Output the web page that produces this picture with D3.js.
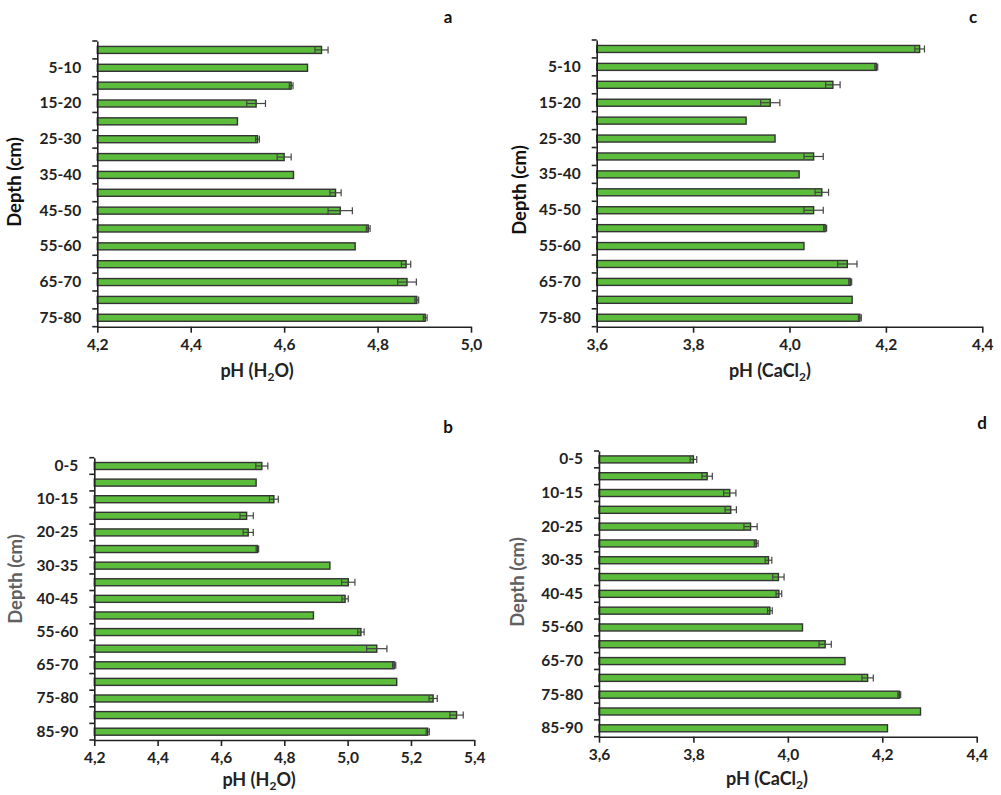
<!DOCTYPE html>
<html>
<head>
<meta charset="utf-8">
<script src="https://cdn.jsdelivr.net/npm/d3@7"></script>
<style>
  body { margin: 0; background: #fff; }
  text { font-family: Lato, "Open Sans", sans-serif; font-weight: bold; }
</style>
</head>
<body>
<div id="chart"></div>
<script>
'use strict';

// depth classes
var depthsTop = ["0-5", "5-10", "10-15", "15-20", "20-25", "25-30", "30-35", "35-40",
    "40-45", "45-50", "50-55", "55-60", "60-65", "65-70", "70-75", "75-80"];
var depthsBottom = ["0-5", "5-10", "10-15", "15-20", "20-25", "25-30", "30-35", "35-40",
    "40-45", "50-55", "55-60", "60-65", "65-70", "70-75", "75-80", "80-85", "85-90"];

// which depth labels are printed on the axis
var labelsTop = ["5-10", "15-20", "25-30", "35-40", "45-50", "55-60", "65-70", "75-80"];
var labelsBottom = ["0-5", "10-15", "20-25", "30-35", "40-45", "55-60", "65-70", "75-80", "85-90"];

// panel a: pH (H2O)
var phWaterA = [4.68, 4.65, 4.615, 4.54, 4.50, 4.543, 4.60, 4.62, 4.71, 4.72, 4.78, 4.752, 4.861, 4.863, 4.884, 4.902];
var errWaterA = [0.014, 0, 0.004, 0.02, 0, 0.004, 0.015, 0, 0.012, 0.026, 0.004, 0, 0.01, 0.02, 0.004, 0.004];

// panel c: pH (CaCl2)
var phCaclC = [4.27, 4.18, 4.09, 3.96, 3.91, 3.97, 4.05, 4.02, 4.067, 4.05, 4.074, 4.03, 4.12, 4.126, 4.13, 4.146];
var errCaclC = [0.01, 0.003, 0.015, 0.02, 0, 0, 0.02, 0, 0.014, 0.02, 0.003, 0, 0.02, 0.003, 0, 0.003];

// panel b: pH (H2O)
var phWaterB = [4.729, 4.711, 4.767, 4.681, 4.686, 4.715, 4.944, 5.002, 4.992, 4.892, 5.042, 5.092, 5.147, 5.155, 5.27, 5.344, 5.253];
var errWaterB = [0.019, 0, 0.014, 0.021, 0.016, 0.004, 0, 0.021, 0.01, 0, 0.01, 0.032, 0.005, 0, 0.013, 0.021, 0.005];

// panel d: pH (CaCl2)
var phCaclD = [3.80, 3.829, 3.877, 3.879, 3.921, 3.933, 3.959, 3.98, 3.981, 3.962, 4.031, 4.079, 4.121, 4.169, 4.236, 4.281, 4.211];
var errCaclD = [0.007, 0.011, 0.013, 0.012, 0.014, 0.004, 0.007, 0.012, 0.006, 0.005, 0, 0.013, 0, 0.012, 0.003, 0, 0];

var ticksWaterA = [4.2, 4.4, 4.6, 4.8, 5.0];
var ticksWaterB = [4.2, 4.4, 4.6, 4.8, 5.0, 5.2, 5.4];
var ticksCacl = [3.6, 3.8, 4.0, 4.2, 4.4];

var panels = [
    {letter: "a", cats: depthsTop, shown: labelsTop, values: phWaterA, errors: errWaterA,
     ticks: ticksWaterA, x0: 97.3, x1: 471, y0: 41, y1: 326.7, unit: "H", sub: "2", tail: "O)",
     titleX: 257, titleDy: 50, letterX: 448, letterY: 17, depthX: 15, depthY: 182, depthColor: "#111"},
    {letter: "c", cats: depthsTop, shown: labelsTop, values: phCaclC, errors: errCaclC,
     ticks: ticksCacl, x0: 596.7, x1: 982.3, y0: 40, y1: 326.7, unit: "CaCl", sub: "2", tail: ")",
     titleX: 770, titleDy: 50, letterX: 973, letterY: 17, depthX: 520, depthY: 190, depthColor: "#111"},
    {letter: "b", cats: depthsBottom, shown: labelsBottom, values: phWaterB, errors: errWaterB,
     ticks: ticksWaterB, x0: 94.3, x1: 474.3, y0: 457.7, y1: 740, unit: "H", sub: "2", tail: "O)",
     titleX: 259, titleDy: 46, letterX: 448, letterY: 427, depthX: 16, depthY: 579, depthColor: "#606060"},
    {letter: "d", cats: depthsBottom, shown: labelsBottom, values: phCaclD, errors: errCaclD,
     ticks: ticksCacl, x0: 599, x1: 976.7, y0: 451, y1: 736.7, unit: "CaCl", sub: "2", tail: ")",
     titleX: 767, titleDy: 48, letterX: 982, letterY: 423, depthX: 518, depthY: 582, depthColor: "#606060"}
];

var comma = function (d) { return d3.format(".1f")(d).replace(".", ","); };

var svg = d3.select("#chart").append("svg")
    .attr("width", 1001)
    .attr("height", 795);

panels.forEach(function (p) {
    var g = svg.append("g");

    var x = d3.scaleLinear()
        .domain([p.ticks[0], p.ticks[p.ticks.length - 1]])
        .range([p.x0, p.x1]);

    var y = d3.scaleBand()
        .domain(p.cats)
        .range([p.y0, p.y1])
        .paddingInner(0)
        .paddingOuter(0);

    var barH = 7;

    // bars
    g.selectAll("rect.bar")
        .data(p.values)
        .enter().append("rect")
        .attr("class", "bar")
        .attr("x", x(p.ticks[0]))
        .attr("y", function (d, i) { return y(p.cats[i]) + y.bandwidth() / 2 - barH / 2; })
        .attr("width", function (d) { return x(d) - x(p.ticks[0]); })
        .attr("height", barH)
        .attr("fill", "#5cbd3c")
        .attr("stroke", "#333")
        .attr("stroke-width", 1.4);

    // error bars
    var eb = g.selectAll("g.err")
        .data(p.values.map(function (v, i) { return {v: v, e: p.errors[i], c: p.cats[i]}; })
            .filter(function (d) { return d.e > 0; }))
        .enter().append("g")
        .attr("class", "err")
        .attr("stroke", "#444")
        .attr("stroke-width", 1.2);

    eb.append("line")
        .attr("x1", function (d) { return x(d.v - d.e); })
        .attr("x2", function (d) { return x(d.v + d.e); })
        .attr("y1", function (d) { return y(d.c) + y.bandwidth() / 2; })
        .attr("y2", function (d) { return y(d.c) + y.bandwidth() / 2; });

    [-1, 1].forEach(function (s) {
        eb.append("line")
            .attr("x1", function (d) { return x(d.v + s * d.e); })
            .attr("x2", function (d) { return x(d.v + s * d.e); })
            .attr("y1", function (d) { return y(d.c) + y.bandwidth() / 2 - 3.5; })
            .attr("y2", function (d) { return y(d.c) + y.bandwidth() / 2 + 3.5; });
    });

    // x axis
    var xAxis = d3.axisBottom(x)
        .tickValues(p.ticks)
        .tickFormat(comma)
        .tickSize(6)
        .tickSizeOuter(0)
        .tickPadding(6);

    var gx = g.append("g")
        .attr("transform", "translate(0," + p.y1 + ")")
        .call(xAxis);
    gx.select(".domain").attr("stroke", "#222").attr("stroke-width", 1.6);
    gx.selectAll(".tick line").attr("stroke", "#222").attr("stroke-width", 1.6);
    gx.selectAll(".tick text")
        .attr("fill", "#222")
        .style("font-size", "15.5px");

    // y axis: depth labels
    var yAxis = d3.axisLeft(y)
        .tickFormat(function (d) { return p.shown.indexOf(d) >= 0 ? d : ""; })
        .tickSize(0)
        .tickPadding(16);

    var gy = g.append("g")
        .attr("transform", "translate(" + p.x0 + ",0)")
        .call(yAxis);
    gy.select(".domain").attr("stroke", "#222").attr("stroke-width", 1.6);
    gy.selectAll(".tick text")
        .attr("fill", "#222")
        .style("font-size", "15.5px");

    // ticks on band boundaries
    var bounds = p.cats.map(function (c) { return y(c); }).concat([p.y1]);
    g.selectAll("line.bound")
        .data(bounds)
        .enter().append("line")
        .attr("class", "bound")
        .attr("x1", p.x0 - 5)
        .attr("x2", p.x0)
        .attr("y1", function (d) { return d; })
        .attr("y2", function (d) { return d; })
        .attr("stroke", "#222")
        .attr("stroke-width", 1.6);

    // x title with subscript
    var t = g.append("text")
        .attr("x", p.titleX)
        .attr("y", p.y1 + p.titleDy)
        .attr("text-anchor", "middle")
        .attr("fill", "#222")
        .style("font-size", "18px");
    t.append("tspan").text("pH (" + p.unit);
    t.append("tspan").text(p.sub).attr("dy", 4).style("font-size", "12px");
    t.append("tspan").text(p.tail).attr("dy", -4);

    // y title
    g.append("text")
        .attr("transform", "translate(" + (p.depthX + 6) + "," + p.depthY + ") rotate(-90)")
        .attr("text-anchor", "middle")
        .attr("fill", p.depthColor)
        .style("font-size", "18.5px")
        .text("Depth (cm)");

    // panel letter
    g.append("text")
        .attr("x", p.letterX)
        .attr("y", p.letterY)
        .attr("text-anchor", "middle")
        .attr("dy", "0.35em")
        .attr("fill", "#111")
        .style("font-size", "17px")
        .text(p.letter);
});
</script>
</body>
</html>
